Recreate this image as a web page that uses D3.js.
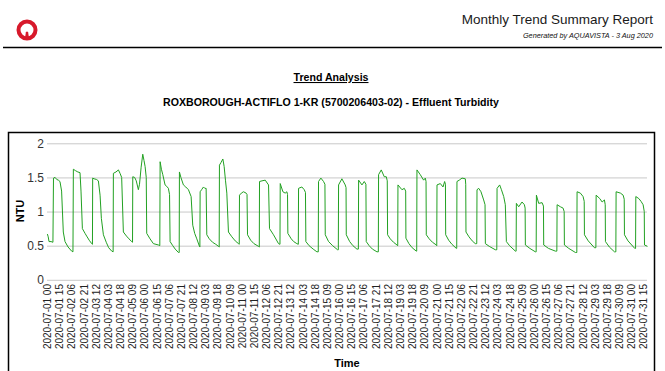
<!DOCTYPE html>
<html>
<head>
<meta charset="utf-8">
<script src="https://cdn.jsdelivr.net/npm/d3@7"></script>
<style>
  body { margin: 0; background: #fff; }
  svg { display: block; font-family: "Liberation Sans", Arial, sans-serif; }
</style>
</head>
<body>
<svg id="chart" width="665" height="371"></svg>
<script>
// hours since 2020-07-01 00:00, NTU
const readings = [
  [0.5, 0.67], [1.5, 0.63], [2.5, 0.56], [5, 0.56], [7.3, 0.55],
  [8.0, 1.49], [10, 1.50], [12, 1.47], [14, 1.46], [16.0, 1.44], [18, 1.3], [20.1, 0.7], [22.2, 0.56], [26, 0.48], [30.4, 0.42], [32.0, 0.41],
  [32.5, 1.62], [35, 1.6], [38, 1.58], [40.7, 1.57], [41.9, 1.3], [43.6, 0.75], [46.9, 0.68], [48.9, 0.64], [52, 0.58], [55.1, 0.53], [56.0, 0.52],
  [56.3, 1.49], [58, 1.48], [61, 1.47], [63.3, 1.45], [65.4, 1.24], [67, 0.9], [69.5, 0.66], [73, 0.55], [76, 0.47], [79.8, 0.42], [81.5, 0.41],
  [81.8, 1.56], [85, 1.58], [88.0, 1.61], [90.0, 1.56], [92, 1.5], [94.1, 0.7], [98, 0.64], [101, 0.6], [104.4, 0.56], [105.4, 0.55],
  [105.7, 1.51], [108, 1.5], [110, 1.45], [112.6, 1.32], [114, 1.4], [116, 1.65], [118.0, 1.84], [119.5, 1.75], [120.9, 1.66], [122.3, 1.5], [122.9, 0.68], [127, 0.6], [131.1, 0.53], [137.3, 0.51], [139.0, 0.5],
  [139.4, 1.73], [141, 1.62], [142.7, 1.54], [145.5, 1.39], [147.5, 1.37], [149.6, 1.34], [151.0, 1.25], [151.7, 0.56], [155, 0.5], [158, 0.45], [162.0, 0.4], [162.9, 0.4],
  [163.2, 1.58], [165, 1.5], [168.1, 1.39], [171, 1.36], [174.3, 1.32], [177.6, 1.22], [179.6, 0.8], [182, 0.68], [184.6, 0.6], [187.9, 0.49], [188.4, 0.48],
  [188.7, 1.29], [190.5, 1.32], [192.8, 1.36], [194.5, 1.34], [196.1, 1.34], [196.9, 0.66], [200, 0.6], [204, 0.55], [208, 0.52], [211.3, 0.49], [212.2, 0.48],
  [212.5, 1.68], [214.5, 1.72], [216.7, 1.77], [218.3, 1.66], [220, 1.45], [221.6, 1.27], [223.6, 0.7], [227.8, 0.63], [232, 0.57], [236.0, 0.53], [236.9, 0.52],
  [237.2, 1.24], [239.5, 1.27], [242.1, 1.29], [245.4, 1.27], [246.5, 1.25], [247.1, 0.66], [251, 0.58], [255, 0.53], [260.6, 0.49], [261.6, 0.48],
  [261.9, 1.44], [265, 1.45], [268.9, 1.46], [273.0, 1.39], [274.2, 0.75], [279.1, 0.66], [285.3, 0.53], [287.1, 0.52],
  [287.4, 1.41], [290.7, 1.29], [293.5, 1.27], [295.6, 1.29], [296.4, 1.25], [296.8, 0.68], [301, 0.6], [304, 0.56], [307.9, 0.53], [309.7, 0.52],
  [310.0, 1.34], [314.1, 1.36], [317.0, 1.32], [318.5, 1.28], [319.0, 0.56], [323, 0.5], [328, 0.45], [332.6, 0.41], [334.3, 0.41],
  [334.6, 1.44], [337.5, 1.49], [340.8, 1.44], [342.5, 1.4], [342.9, 0.66], [347, 0.56], [352, 0.5], [358.1, 0.44], [359.0, 0.44],
  [359.3, 1.39], [363.4, 1.48], [367.5, 1.39], [368.5, 1.35], [368.8, 0.66], [373, 0.56], [377, 0.5], [381.9, 0.45], [383.7, 0.45],
  [384.0, 1.46], [388.1, 1.39], [391.0, 1.44], [393, 1.4], [393.4, 0.56], [397, 0.5], [401, 0.45], [406.6, 0.41], [408.3, 0.41],
  [408.6, 1.54], [411.9, 1.61], [415.6, 1.51], [418.1, 1.51], [419.3, 1.45], [419.7, 0.66], [423, 0.6], [427, 0.55], [431.3, 0.51], [432.2, 0.5],
  [432.5, 1.39], [437.4, 1.32], [440.3, 1.34], [442, 1.3], [442.3, 0.61], [446, 0.53], [450, 0.47], [455.1, 0.42], [455.6, 0.42],
  [455.9, 1.61], [460.0, 1.54], [464.1, 1.46], [466.2, 1.49], [467.1, 1.44], [467.4, 0.66], [471, 0.6], [475, 0.55], [479.8, 0.51], [480.3, 0.5],
  [480.6, 1.39], [484.7, 1.41], [488.0, 1.36], [490.0, 1.44], [491.0, 1.4], [491.3, 0.66], [495, 0.58], [499, 0.52], [504.4, 0.46], [504.9, 0.46],
  [505.2, 1.44], [508, 1.46], [511.4, 1.49], [515.5, 1.48], [516.0, 1.4], [516.3, 0.7], [520, 0.63], [524, 0.57], [527.8, 0.53], [529.6, 0.53],
  [529.9, 1.32], [532, 1.34], [534.8, 1.29], [538.1, 1.17], [539.8, 1.1], [540.2, 0.53], [545, 0.49], [552.5, 0.44], [554.3, 0.44],
  [554.6, 1.34], [557.8, 1.39], [560, 1.32], [562.8, 1.22], [564.8, 1.1], [566.1, 0.56], [570, 0.5], [577.2, 0.42], [578.1, 0.42],
  [578.4, 1.12], [581.3, 1.07], [585.4, 1.14], [588.3, 1.1], [589.2, 1.05], [589.5, 0.51], [595, 0.46], [601.8, 0.41], [602.8, 0.41],
  [603.1, 1.24], [605.9, 1.12], [610.1, 1.13], [611.8, 1.08], [612.1, 0.51], [618, 0.46], [626.5, 0.42], [628.3, 0.42],
  [628.6, 1.10], [632.7, 1.07], [636.0, 1.05], [637.3, 1.0], [637.6, 0.51], [643, 0.46], [651.2, 0.40], [652.9, 0.4],
  [653.2, 1.29], [657.3, 1.27], [660.6, 1.22], [662.0, 1.15], [662.3, 0.66], [667, 0.57], [674.6, 0.47], [676.4, 0.47],
  [676.7, 1.24], [681.2, 1.19], [684.1, 1.14], [686.9, 1.17], [687.9, 1.1], [688.2, 0.56], [693, 0.48], [699.3, 0.41], [701.0, 0.41],
  [701.3, 1.29], [706.7, 1.27], [710.0, 1.24], [711.3, 1.18], [711.6, 0.66], [716, 0.57], [724.3, 0.46], [725.3, 0.46],
  [725.6, 1.22], [729.3, 1.19], [732, 1.15], [734.6, 1.10], [736.0, 1.0], [736.3, 0.51], [740, 0.49]
];

const yTicks = [0, 0.5, 1, 1.5, 2];
const tickStepHours = 15;
const lastTickHour = 735;   // 2020-07-31 15
const startTime = new Date(2020, 6, 1, 0, 0);
const endHour = 740;

const reportTitle = 'Monthly Trend Summary Report';
const generatedBy = 'Generated by AQUAVISTA - 3 Aug 2020';
const sectionTitle = 'Trend Analysis';
const chartTitle = 'ROXBOROUGH-ACTIFLO 1-KR (5700206403-02) - Effluent Turbidity';

const svg = d3.select('#chart');
const hourToDate = h => new Date(startTime.getTime() + h * 3600000);
const fmt = d3.timeFormat('%Y-%m-%d %H');

/////// header ///////
let logo = svg.append('g').attr('transform', 'translate(27,30)');
logo.append('circle').attr('r', 8.5).attr('fill', 'none').attr('stroke', '#d7192b').attr('stroke-width', 4);
logo.append('path').attr('d', 'M-2.2,10 L-1.2,2.5 Q0,0.5 1.2,2.5 L2.2,10 Z').attr('fill', '#d7192b');

svg.append('text').text(reportTitle)
  .attr('x', 653).attr('y', 24).attr('text-anchor', 'end')
  .style('font-size', '13.5px').style('fill', '#1a1a1a');
svg.append('text').text(generatedBy)
  .attr('x', 653).attr('y', 38).attr('text-anchor', 'end')
  .style('font-size', '7.3px').style('font-style', 'italic').style('fill', '#111');

svg.append('line').attr('x1', 3).attr('x2', 662).attr('y1', 47.5).attr('y2', 47.5)
  .attr('stroke', '#000').attr('stroke-width', 1.5);

svg.append('text').text(sectionTitle)
  .attr('x', 331).attr('y', 81).attr('text-anchor', 'middle')
  .style('font-size', '10.6px').style('font-weight', 'bold').style('text-decoration', 'underline');
svg.append('text').text(chartTitle)
  .attr('x', 331).attr('y', 106).attr('text-anchor', 'middle')
  .style('font-size', '10.6px').style('font-weight', 'bold');

/////// chart frame ///////
svg.append('rect').attr('x', 8.5).attr('y', 132.5).attr('width', 646).attr('height', 260)
  .attr('fill', 'none').attr('stroke', '#000').attr('stroke-width', 1.5);

/////// scales ///////
const x = d3.scaleTime().domain([startTime, hourToDate(endHour)]).range([47, 647.5]);
const y = d3.scaleLinear().domain([0, 2]).range([279.8, 143.3]);

// gridlines + y labels
let yAxis = svg.append('g').attr('transform', 'translate(47,0)')
  .call(d3.axisLeft(y).tickValues(yTicks).tickSize(-600).tickFormat(d3.format('')).tickPadding(3));
yAxis.select('.domain').remove();
yAxis.selectAll('line').attr('stroke', '#c8c8c8');
yAxis.selectAll('text').style('font-size', '12px').style('fill', '#333')
  .style('font-family', '"Liberation Sans", Arial, sans-serif');

svg.append('text').text('NTU')
  .attr('transform', 'translate(24,211) rotate(-90)').attr('text-anchor', 'middle')
  .style('font-size', '11px').style('font-weight', 'bold');

// x labels
const tickDates = d3.range(0, lastTickHour + 1, tickStepHours).map(hourToDate);
let xAxis = svg.append('g').attr('transform', 'translate(0,280)')
  .call(d3.axisBottom(x).tickValues(tickDates).tickSize(0).tickFormat(fmt));
xAxis.select('.domain').remove();
xAxis.selectAll('text')
  .attr('transform', 'rotate(-90)')
  .attr('x', -4).attr('y', 0).attr('dy', '0.35em')
  .attr('text-anchor', 'end')
  .style('font-size', '10px').style('fill', '#222')
  .style('font-family', '"Liberation Sans", Arial, sans-serif');

svg.append('text').text('Time')
  .attr('x', 347).attr('y', 367).attr('text-anchor', 'middle')
  .style('font-size', '11px').style('font-weight', 'bold');

/////// series ///////
const lineGen = d3.line()
  .x(d => x(hourToDate(d[0])))
  .y(d => y(d[1]));

svg.append('path').datum(readings)
  .attr('d', lineGen)
  .attr('fill', 'none')
  .attr('stroke', '#22a122')
  .attr('stroke-width', 1);
</script>
</body>
</html>
